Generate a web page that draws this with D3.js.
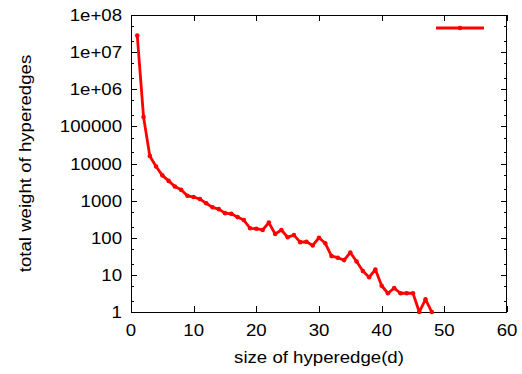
<!DOCTYPE html>
<html>
<head>
<meta charset="utf-8">
<script src="https://cdnjs.cloudflare.com/ajax/libs/d3/7.8.5/d3.min.js"></script>
<style>
    body { margin: 0; background: #fff; }
    text { font-family: "Liberation Sans", Arial, sans-serif; fill: #000; }
</style>
</head>
<body>
<script>
// hyperedge size (d) on the x axis
var sizes = [1, 2, 3, 4, 5, 6, 7, 8, 9, 10, 11, 12, 13, 14, 15, 16, 17, 18, 19, 20,
    21, 22, 23, 24, 25, 26, 27, 28, 29, 30, 31, 32, 33, 34, 35, 36, 37, 38, 39, 40,
    41, 42, 43, 44, 45, 46, 47, 48];

// total weight of hyperedges for each size
var weights = [2.8e7, 1.8e5, 1.6e4, 8300, 4800, 3400, 2400, 1950, 1350, 1250,
    1100, 850, 660, 590, 460, 440, 360, 300, 180, 175,
    162, 256, 126, 162, 103, 118, 76, 78, 62, 100,
    71, 32, 29, 25, 40, 23, 12.7, 8.6, 14, 5.1,
    3.2, 4.4, 3.2, 3.2, 3.2, 1, 2.2, 1];

var xTicks = [0, 10, 20, 30, 40, 50, 60];
var yTicks = [1, 10, 100, 1000, 10000, 100000, 1e6, 1e7, 1e8];
var yTickLabels = ['1', '10', '100', '1000', '10000', '100000', '1e+06', '1e+07', '1e+08'];

var svgWidth = 522;
var svgHeight = 374;
var margin = { top: 15, right: 15, bottom: 62, left: 131 };
var plotW = svgWidth - margin.left - margin.right;
var plotH = svgHeight - margin.top - margin.bottom;

var fontSize = 16.5;
var stretch = 1.13;   // glyphs in the reference are a bit wide
var red = '#ff0000';

var svg = d3.select('body').append('svg')
    .attr('width', svgWidth)
    .attr('height', svgHeight);

var g = svg.append('g').attr('transform', 'translate(' + margin.left + ',' + margin.top + ')');

var x = d3.scaleLinear().domain([0, 60]).range([0, plotW]);
var y = d3.scaleLog().domain([1, 1e8]).range([plotH, 0]);

// minor ticks at 2 and 5 of each decade
var minorTicks = [];
for (var e = 0; e < 8; e++) {
    minorTicks.push(2 * Math.pow(10, e));
    minorTicks.push(5 * Math.pow(10, e));
}

function label(parent, px, py, str, anchor, rot) {
    var t = parent.append('g')
        .attr('transform', 'translate(' + px + ',' + py + ')' + (rot ? ' rotate(' + rot + ')' : '') + ' scale(' + stretch + ',1)');
    t.append('text')
        .attr('text-anchor', anchor)
        .attr('font-size', fontSize)
        .text(str);
}

var ticks = g.append('g').attr('stroke', '#000').attr('stroke-width', 1);

// x ticks, bottom and mirrored on top
xTicks.forEach(function (d) {
    var px = Math.round(x(d)) + 0.5;
    ticks.append('line').attr('x1', px).attr('x2', px).attr('y1', plotH).attr('y2', plotH - 6);
    ticks.append('line').attr('x1', px).attr('x2', px).attr('y1', 0).attr('y2', 6);
    label(g, x(d), plotH + 24, d, 'middle');
});

// y ticks, left and mirrored on right
yTicks.forEach(function (d, i) {
    var py = Math.round(y(d)) + 0.5;
    ticks.append('line').attr('x1', 0).attr('x2', 6).attr('y1', py).attr('y2', py);
    ticks.append('line').attr('x1', plotW).attr('x2', plotW - 6).attr('y1', py).attr('y2', py);
    label(g, -9, y(d) + 6, yTickLabels[i], 'end');
});
minorTicks.forEach(function (d) {
    var py = Math.round(y(d)) + 0.5;
    ticks.append('line').attr('x1', 0).attr('x2', 3).attr('y1', py).attr('y2', py);
    ticks.append('line').attr('x1', plotW).attr('x2', plotW - 3).attr('y1', py).attr('y2', py);
});

// border
g.append('rect')
    .attr('x', 0.5).attr('y', 0.5)
    .attr('width', plotW - 1).attr('height', plotH)
    .attr('fill', 'none')
    .attr('stroke', '#000');

// axis titles
label(svg, margin.left + plotW / 2, 363, 'size of hyperedge(d)', 'middle');
label(svg, 31, margin.top + plotH / 2, 'total weight of hyperedges', 'middle', -90);

var data = sizes.map(function (d, i) { return { d: d, w: weights[i] }; });

var line = d3.line()
    .x(function (p) { return x(p.d); })
    .y(function (p) { return y(p.w); });

g.append('path')
    .datum(data)
    .attr('fill', 'none')
    .attr('stroke', red)
    .attr('stroke-width', 2.8)
    .attr('stroke-linejoin', 'round')
    .attr('d', line);

g.selectAll('circle.pt')
    .data(data)
    .enter()
    .append('circle')
    .attr('class', 'pt')
    .attr('cx', function (p) { return x(p.d); })
    .attr('cy', function (p) { return y(p.w); })
    .attr('r', 2.3)
    .attr('fill', red);

// legend (no title text)
var legend = svg.append('g').attr('transform', 'translate(436,28)');
legend.append('line')
    .attr('x1', 0).attr('x2', 48)
    .attr('stroke', red)
    .attr('stroke-width', 2.8);
legend.append('circle').attr('cx', 24).attr('r', 2.3).attr('fill', red);
</script>
</body>
</html>
